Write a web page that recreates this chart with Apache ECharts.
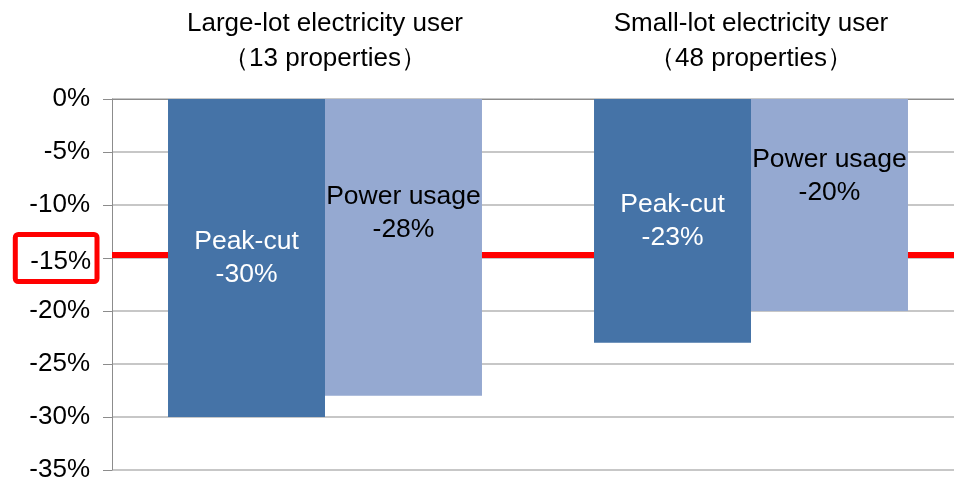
<!DOCTYPE html>
<html>
<head>
<meta charset="utf-8">
<script src="https://cdn.jsdelivr.net/npm/echarts@6/dist/echarts.min.js"></script>
<style>
  html, body { margin: 0; padding: 0; background: #fff; }
  #chart { width: 954px; height: 482px; }
</style>
</head>
<body>
<div id="chart"></div>
<script>
// 카테고리 / 값
const categories = ['Large-lot electricity user\n（13 properties）', 'Small-lot electricity user\n（48 properties）'];
const seriesNames = ['Peak-cut', 'Power usage'];
const peakCut = [-30, -23];
const powerUsage = [-28, -20];
const targetLine = -14.7;
const yTicks = [0, -5, -10, -15, -20, -25, -30, -35];
const highlightTick = -15;

const FONT = '"Liberation Sans", Arial, sans-serif';
const chart = echarts.init(document.getElementById('chart'));

// 막대 라벨 위치 보정 (값 → 데이터 항목)
function withOffsets(values, offsets) {
    return values.map((v, i) => ({ value: v, label: { offset: offsets[i] } }));
}

const barLabel = color => ({
    show: true, position: 'inside',
    color: color, fontSize: 26.5, lineHeight: 33, fontFamily: FONT,
    formatter: p => `${p.seriesName}\n${p.value}%`
});

const option = {
    animation: false,
    textStyle: { fontFamily: FONT },
    // 오른쪽 끝은 이미지 밖으로 잘림
    grid: { left: 112, top: 99, width: 852, height: 371, outerBoundsMode: 'none', containLabel: false },
    xAxis: {
        type: 'category',
        data: categories,
        position: 'top',
        axisLine: { onZero: false, lineStyle: { color: '#8c8c8c', width: 1 } },
        axisTick: { inside: true, length: 8, lineStyle: { color: '#a6a6a6' } },
        axisLabel: {
            color: '#000', fontSize: 26, lineHeight: 35, margin: 23,
            fontFamily: FONT
        }
    },
    yAxis: {
        type: 'value',
        min: yTicks[yTicks.length - 1],
        max: yTicks[0],
        interval: 5,
        axisLine: { show: true, lineStyle: { color: '#8c8c8c' } },
        axisTick: { show: true, length: 9, lineStyle: { color: '#8c8c8c' } },
        splitLine: { lineStyle: { color: '#b4b4b4', width: 1.5 } },
        axisLabel: {
            margin: 15,
            formatter: v => v === highlightTick ? `{box|${v}%}` : `{n|${v}%}`,
            rich: {
                n: { color: '#000', fontSize: 26, fontFamily: FONT, padding: [0, 7, 0, 0] },
                box: {
                    color: '#000', fontSize: 26, fontFamily: FONT,
                    borderColor: '#ff0000', borderWidth: 5, borderRadius: 3,
                    padding: [14, 6, 7, 15]
                }
            }
        }
    },
    series: [
        {
            // 기준선 (막대 뒤에 그림)
            type: 'line',
            data: [],
            z: 1,
            silent: true,
            markLine: {
                z: 1,
                silent: true,
                symbol: 'none',
                label: { show: false },
                lineStyle: { color: '#ff0000', width: 6, type: 'solid' },
                data: [{ yAxis: targetLine }]
            }
        },
        {
            name: seriesNames[0],
            type: 'bar',
            z: 5,
            barGap: 0,
            barCategoryGap: '26.3%',
            itemStyle: { color: '#4573a7' },
            label: barLabel('#fff'),
            data: withOffsets(peakCut, [[0, 0], [0, 0]])
        },
        {
            name: seriesNames[1],
            type: 'bar',
            z: 5,
            itemStyle: { color: '#95a9d1' },
            label: barLabel('#000'),
            data: withOffsets(powerUsage, [[0, -34], [0, -29]])
        }
    ]
};

chart.setOption(option);
</script>
</body>
</html>
